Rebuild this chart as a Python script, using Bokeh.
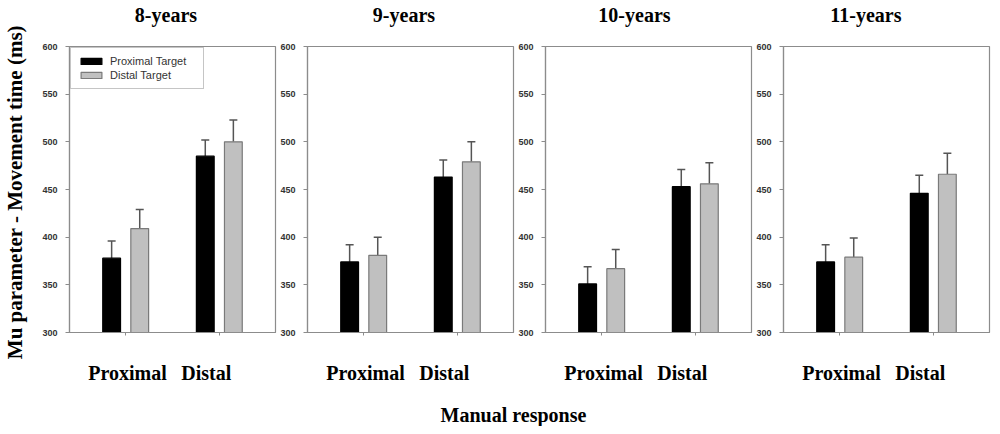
from bokeh.plotting import figure
from bokeh.models import (Range1d, FixedTicker, LinearAxis, Legend, LegendItem,
                          Whisker, ColumnDataSource, TeeHead, Label)
from bokeh.layouts import row, column
from bokeh.embed import file_html
from bokeh.resources import INLINE

# ---------------- data ----------------
ages = ["8-years", "9-years", "10-years", "11-years"]
responses = ["Proximal", "Distal"]
series_names = ["Proximal Target", "Distal Target"]
y_ticks = [300, 350, 400, 450, 500, 550, 600]

# per age: [Proximal response, Distal response]
proximal_target_mean = [[378, 485], [374, 463], [351, 453], [374, 446]]
proximal_target_err = [[18, 17], [18, 18], [18, 18], [18, 19]]
distal_target_mean = [[409, 500], [381, 479], [367, 456], [379, 466]]
distal_target_err = [[20, 23], [19, 21], [20, 22], [20, 22]]

# ---------------- style ----------------
FRAME_GRAY = "#8c8c8c"
BAR_GRAY = "#c0c0c0"
ERR_COLOR = "#555555"
SERIF = "Liberation Serif"
SANS = "Liberation Sans"

response_pos = [1, 2]
label_pos = [1.02, 1.86]
title_pos = [1.43, 1.43, 1.35, 1.28]
bar_offset = 0.15
bar_width = 0.19


def make_panel(i):
    first = i == 0
    p = figure(frame_width=206, frame_height=286,
               x_range=Range1d(0.4, 2.6), y_range=Range1d(300, 600),
               output_backend="svg", toolbar_location=None,
               x_axis_location=None, y_axis_location=None,
               min_border_left=62 if first else 29, min_border_right=2,
               min_border_top=46, min_border_bottom=56,
               title=None)
    p.grid.visible = False
    p.outline_line_color = FRAME_GRAY
    p.outline_line_width = 1.2
    p.background_fill_color = "white"
    p.border_fill_color = "white"

    # panel heading ("8-years", ...) carried by a top axis
    head_ax = LinearAxis(ticker=FixedTicker(ticks=[title_pos[i]]),
                         major_label_overrides={title_pos[i]: ages[i]},
                         axis_line_color=None, major_tick_line_color=None,
                         minor_tick_line_color=None, major_tick_out=0, major_tick_in=0,
                         major_label_standoff=21, major_label_text_font=SERIF,
                         major_label_text_font_style="bold",
                         major_label_text_font_size="20px",
                         major_label_text_color="black")
    p.add_layout(head_ax, "above")

    yax = LinearAxis(ticker=FixedTicker(ticks=y_ticks),
                     axis_line_color=FRAME_GRAY, axis_line_width=1.2,
                     major_tick_line_color=FRAME_GRAY, major_tick_out=4, major_tick_in=0,
                     minor_tick_line_color=None, major_label_standoff=8,
                     major_label_text_font=SANS, major_label_text_font_style="bold",
                     major_label_text_font_size="9px", major_label_text_color="#333333")
    if first:
        yax.axis_label = "Mu parameter - Movement time  (ms)"
        yax.axis_label_text_font = SERIF
        yax.axis_label_text_font_style = "bold"
        yax.axis_label_text_font_size = "21px"
        yax.axis_label_text_color = "black"
        yax.axis_label_standoff = 12
    p.add_layout(yax, "left")

    tick_ax = LinearAxis(ticker=FixedTicker(ticks=response_pos),
                         major_label_overrides={v: "" for v in response_pos},
                         axis_line_color=FRAME_GRAY, axis_line_width=1.2,
                         major_tick_line_color=FRAME_GRAY, major_tick_out=3, major_tick_in=0,
                         minor_tick_line_color=None, major_label_standoff=0,
                         major_label_text_font_size="2px")
    p.add_layout(tick_ax, "below")

    lab_ax = LinearAxis(ticker=FixedTicker(ticks=label_pos),
                        major_label_overrides={v: r for v, r in zip(label_pos, responses)},
                        axis_line_color=None, major_tick_line_color=None,
                        minor_tick_line_color=None, major_label_standoff=20,
                        major_label_text_font=SERIF, major_label_text_font_style="bold",
                        major_label_text_font_size="20px", major_label_text_color="black")
    p.add_layout(lab_ax, "below")

    renderers = []
    for means, errs, off, fill, line in [
        (proximal_target_mean[i], proximal_target_err[i], -bar_offset, "black", "black"),
        (distal_target_mean[i], distal_target_err[i], bar_offset, BAR_GRAY, "#7a7a7a"),
    ]:
        xs = [x + off for x in response_pos]
        src = ColumnDataSource(dict(x=xs, top=means,
                                    upper=[m + e for m, e in zip(means, errs)]))
        w = Whisker(source=src, base="x", lower="top", upper="upper", dimension="height",
                    line_color=ERR_COLOR, line_width=1.5,
                    upper_head=TeeHead(size=8, line_color=ERR_COLOR, line_width=1.5),
                    lower_head=None)
        p.add_layout(w)
        r = p.vbar(x="x", top="top", bottom=300, width=bar_width, source=src,
                   fill_color=fill, line_color=line, line_width=1.2)
        renderers.append(r)

    if first:
        legend = Legend(items=[LegendItem(label=series_names[0], renderers=[renderers[0]]),
                               LegendItem(label=series_names[1], renderers=[renderers[1]])],
                        location="top_left", margin=1, padding=7, spacing=2,
                        glyph_width=26, glyph_height=8, label_height=11, label_width=86,
                        label_standoff=6, label_text_font=SANS, label_text_font_size="11px",
                        label_text_color="#333333", border_line_color=FRAME_GRAY,
                        border_line_width=1.2, background_fill_color="white")
        p.add_layout(legend)
    return p


panels = [make_panel(i) for i in range(len(ages))]

strip = figure(width=984, height=38, x_range=Range1d(0, 984), y_range=Range1d(0, 38),
               output_backend="svg", toolbar_location=None,
               x_axis_location=None, y_axis_location=None, min_border=0)
strip.grid.visible = False
strip.outline_line_color = None
strip.add_layout(Label(x=513, y=12, text="Manual response", text_align="center",
                       text_baseline="middle", text_font=SERIF, text_font_style="bold",
                       text_font_size="20px", text_color="black"))

layout = column(row(*panels), strip)
open("out.html", "w").write(file_html(layout, INLINE))
